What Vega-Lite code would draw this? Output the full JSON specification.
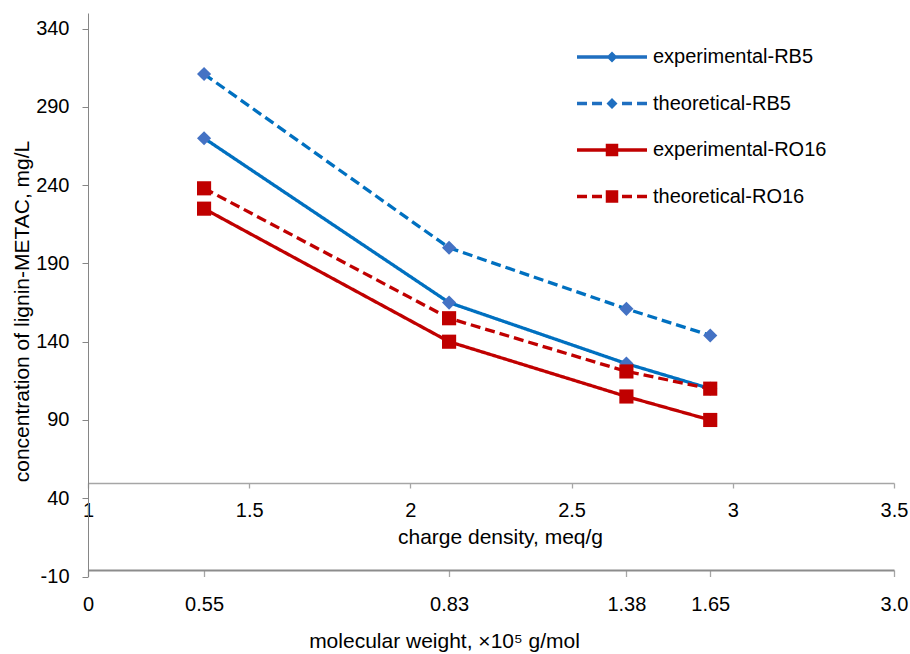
{
  "$schema": "https://vega.github.io/schema/vega-lite/v6.json",
  "width": 806,
  "height": 563.5,
  "autosize": {"type": "none"},
  "padding": {"left": 88, "top": 13, "right": 16, "bottom": 77.5},
  "config": {
    "view": {"stroke": null},
    "font": "Liberation Sans",
    "axis": {
      "grid": false,
      "labelFont": "Liberation Sans",
      "titleFont": "Liberation Sans",
      "labelColor": "#000000",
      "titleColor": "#000000",
      "titleFontWeight": "normal",
      "labelFontSize": 20,
      "titleFontSize": 21
    }
  },
  "data": {
    "values": [
      {"series": "experimental-RB5", "dye": "RB5", "cd": 1.36, "c": 270},
      {"series": "experimental-RB5", "dye": "RB5", "cd": 2.12, "c": 165},
      {"series": "experimental-RB5", "dye": "RB5", "cd": 2.67, "c": 126},
      {"series": "experimental-RB5", "dye": "RB5", "cd": 2.93, "c": 110},
      {"series": "theoretical-RB5", "dye": "RB5", "cd": 1.36, "c": 311},
      {"series": "theoretical-RB5", "dye": "RB5", "cd": 2.12, "c": 200},
      {"series": "theoretical-RB5", "dye": "RB5", "cd": 2.67, "c": 161},
      {"series": "theoretical-RB5", "dye": "RB5", "cd": 2.93, "c": 144},
      {"series": "experimental-RO16", "dye": "RO16", "cd": 1.36, "c": 225},
      {"series": "experimental-RO16", "dye": "RO16", "cd": 2.12, "c": 140},
      {"series": "experimental-RO16", "dye": "RO16", "cd": 2.67, "c": 105},
      {"series": "experimental-RO16", "dye": "RO16", "cd": 2.93, "c": 90},
      {"series": "theoretical-RO16", "dye": "RO16", "cd": 1.36, "c": 238},
      {"series": "theoretical-RO16", "dye": "RO16", "cd": 2.12, "c": 155},
      {"series": "theoretical-RO16", "dye": "RO16", "cd": 2.67, "c": 121},
      {"series": "theoretical-RO16", "dye": "RO16", "cd": 2.93, "c": 110}
    ]
  },
  "encoding": {
    "y": {
      "field": "c",
      "type": "quantitative",
      "scale": {"domain": [-10, 350], "nice": false, "zero": false},
      "axis": {
        "values": [-10, 40, 90, 140, 190, 240, 290, 340],
        "labelExpr": "'' + datum.value",
        "domainColor": "#868686",
        "tickColor": "#868686",
        "tickSize": 6,
        "labelPadding": 13,
        "title": "concentration of lignin-METAC, mg/L",
        "titleX": -59.5,
        "titleY": 298,
        "titleAngle": -90,
        "titleAlign": "center",
        "titleBaseline": "alphabetic"
      }
    }
  },
  "layer": [
    {
      "mark": {"type": "line", "strokeWidth": 3.3},
      "encoding": {
        "x": {
          "field": "cd",
          "type": "quantitative",
          "scale": {"domain": [1, 3.5], "nice": false, "zero": false},
          "axis": {
            "orient": "bottom",
            "offset": -93.5,
            "values": [1, 1.5, 2, 2.5, 3, 3.5],
            "labelExpr": "'' + datum.value",
            "labelFlush": false,
            "labelOverlap": false,
            "labelBound": false,
            "domainColor": "#A6A6A6",
            "domainWidth": 1.3,
            "tickColor": "#A6A6A6",
            "tickWidth": 1.3,
            "tickSize": 5,
            "labelPadding": 12,
            "title": "charge density, meq/g",
            "titleX": 412,
            "titleY": 60,
            "titleAlign": "center",
            "titleBaseline": "alphabetic"
          }
        },
        "color": {
          "field": "series",
          "type": "nominal",
          "scale": {
            "domain": ["experimental-RB5", "theoretical-RB5", "experimental-RO16", "theoretical-RO16"],
            "range": ["#0070C0", "#0070C0", "#C00000", "#C00000"]
          },
          "legend": {
            "orient": "none",
            "legendX": 514,
            "legendY": 34,
            "title": null,
            "padding": 0,
            "symbolSize": 100,
            "symbolOffset": 0,
            "labelOffset": 31,
            "labelFontSize": 20,
            "labelFont": "Liberation Sans",
            "labelColor": "#000000",
            "labelLimit": 400,
            "rowPadding": 26.5,
            "encode": {
              "symbols": {
                "update": {
                  "shape": {"signal": "datum.value == 'experimental-RB5' ? 'M-7,-0.33L7,-0.33L7,0.33L-7,0.33ZM-1.1,0L0,-1.1L1.1,0L0,1.1Z' : datum.value == 'theoretical-RB5' ? 'M-7,-0.33L-5,-0.33L-5,0.33L-7,0.33ZM-4,-0.33L-2,-0.33L-2,0.33L-4,0.33ZM2,-0.33L4,-0.33L4,0.33L2,0.33ZM5,-0.33L7,-0.33L7,0.33L5,0.33ZM-1.1,0L0,-1.1L1.1,0L0,1.1Z' : datum.value == 'experimental-RO16' ? 'M-7,-0.33L7,-0.33L7,0.33L-7,0.33ZM-1.25,-1.25L1.25,-1.25L1.25,1.25L-1.25,1.25Z' : 'M-7,-0.33L-5,-0.33L-5,0.33L-7,0.33ZM-4,-0.33L-2,-0.33L-2,0.33L-4,0.33ZM2,-0.33L4,-0.33L4,0.33L2,0.33ZM5,-0.33L7,-0.33L7,0.33L5,0.33ZM-1.25,-1.25L1.25,-1.25L1.25,1.25L-1.25,1.25Z'"},
                  "fill": {"signal": "indexof(datum.value, 'RB5') >= 0 ? '#1F6FC0' : '#C00000'"},
                  "fillOpacity": {"value": 1},
                  "strokeWidth": {"value": 0},
                  "opacity": {"value": 1}
                }
              }
            }
          }
        },
        "strokeDash": {
          "field": "series",
          "type": "nominal",
          "scale": {
            "domain": ["experimental-RB5", "theoretical-RB5", "experimental-RO16", "theoretical-RO16"],
            "range": [[1, 0], [10, 5], [1, 0], [10, 5]]
          },
          "legend": null
        }
      }
    },
    {
      "mark": {"type": "point", "filled": true, "opacity": 1, "size": 200},
      "encoding": {
        "x": {
          "field": "cd",
          "type": "quantitative",
          "axis": {
            "orient": "bottom",
            "offset": -6.5,
            "values": [1, 1.36, 2.12, 2.67, 2.93, 3.5],
            "labelExpr": "datum.value < 1.1 ? '0' : datum.value < 1.5 ? '0.55' : datum.value < 2.3 ? '0.83' : datum.value < 2.8 ? '1.38' : datum.value < 3.2 ? '1.65' : '3.0'",
            "labelFlush": false,
            "labelOverlap": false,
            "labelBound": false,
            "domainColor": "#8C8C8C",
            "domainWidth": 2,
            "tickColor": "#A6A6A6",
            "tickWidth": 1.3,
            "tickSize": 6.5,
            "labelPadding": 18,
            "title": "molecular weight, ×10⁵ g/mol",
            "titleX": 356,
            "titleY": 77,
            "titleAlign": "center",
            "titleBaseline": "alphabetic"
          }
        },
        "fill": {
          "field": "dye",
          "type": "nominal",
          "scale": {"domain": ["RB5", "RO16"], "range": ["#4472C4", "#C00000"]},
          "legend": null
        },
        "shape": {
          "field": "dye",
          "type": "nominal",
          "scale": {"domain": ["RB5", "RO16"], "range": ["diamond", "square"]},
          "legend": null
        }
      }
    }
  ],
  "resolve": {"axis": {"x": "independent"}}
}
